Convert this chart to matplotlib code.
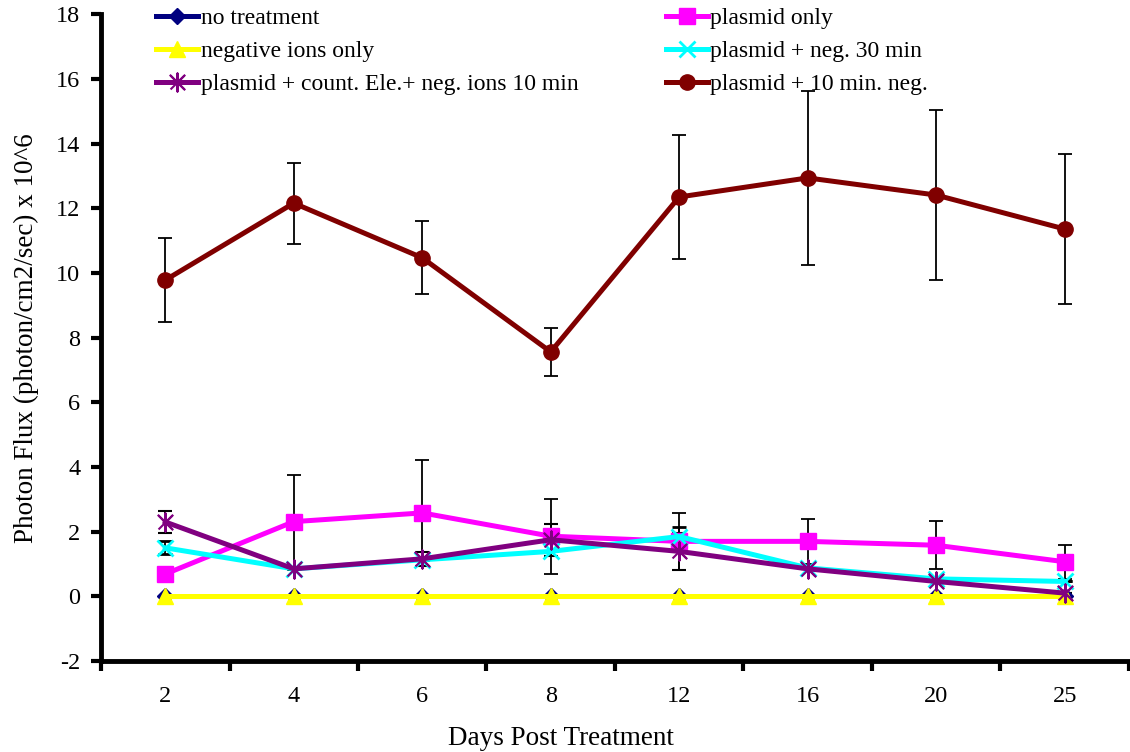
import numpy as np
import matplotlib.pyplot as plt

plt.rcParams['font.family'] = ['Liberation Serif', 'DejaVu Serif']
plt.rcParams['axes.unicode_minus'] = False

days = ['2', '4', '6', '8', '12', '16', '20', '25']

no_treatment = [0, 0, 0, 0, 0, 0, 0, 0]
neg_ions_only = [0, 0, 0, 0, 0, 0, 0, 0]
plasmid_only = [0.69, 2.31, 2.58, 1.86, 1.70, 1.70, 1.58, 1.07]
plasmid_only_err = [0.0, 1.45, 1.64, 1.16, 0.89, 0.70, 0.74, 0.52]
neg30 = [1.50, 0.85, 1.13, 1.39, 1.85, 0.88, 0.54, 0.46]
neg30_err = [0.20, 0.0, 0.0, 0.0, 0.30, 0.0, 0.0, 0.0]
count_ele = [2.30, 0.85, 1.16, 1.75, 1.39, 0.85, 0.46, 0.10]
count_ele_err = [0.35, 0.0, 0.22, 0.50, 0.57, 0.0, 0.0, 0.0]
neg10 = [9.78, 12.16, 10.47, 7.56, 12.35, 12.94, 12.41, 11.36]
neg10_err = [1.31, 1.25, 1.13, 0.74, 1.91, 2.68, 2.63, 2.32]

x = np.arange(len(days))

fig = plt.figure(figsize=(11.3, 7.52), dpi=100)
ax = fig.add_axes([0.0894, 0.121, 0.9096, 0.86])

lw = 3.6
eb = dict(ecolor='black', elinewidth=1.3, capsize=5, capthick=1.3)

# excel-style star: x with a vertical bar
star = [(-1, -1), (1, 1), (0, 0), (-1, 1), (1, -1), (0, 0), (0, 1.3), (0, -1.3), (0, 0)]

c1 = ax.errorbar(x, no_treatment, color='#000080', marker='D', markersize=8, lw=lw,
                 label='no treatment', zorder=3)
c2 = ax.errorbar(x, plasmid_only, yerr=plasmid_only_err, color='#FF00FF', marker='s',
                 markersize=12, lw=lw, label='plasmid only', zorder=3, **eb)
c3 = ax.errorbar(x, neg_ions_only, color='#FFFF00', marker='^', markersize=12, lw=lw,
                 label='negative ions only', zorder=3)
c4 = ax.errorbar(x, neg30, yerr=neg30_err, color='#00FFFF', marker='x', markersize=12,
                 mew=2, lw=lw, label='plasmid + neg. 30 min', zorder=3, **eb)
c5 = ax.errorbar(x, count_ele, yerr=count_ele_err, color='#800080', marker=star,
                 markersize=13, mew=1.5, lw=lw,
                 label='plasmid + count. Ele.+ neg. ions 10 min', zorder=3, **eb)
c6 = ax.errorbar(x, neg10, yerr=neg10_err, color='#800000', marker='o', markersize=11,
                 lw=lw, label='plasmid + 10 min. neg.', zorder=3, **eb)

ax.set_xlim(-0.5, 7.5)
ax.set_ylim(-2, 18)
ax.set_yticks(np.arange(-2, 19, 2))

# category ticks at boundaries, labels at centers
ax.set_xticks(np.arange(-0.5, 8, 1))
ax.set_xticklabels([])
ax.set_xticks(x, minor=True)
ax.set_xticklabels(days, minor=True)
ax.tick_params(axis='x', which='major', direction='out', length=7, width=3)
ax.tick_params(axis='x', which='minor', length=0, pad=18, labelsize=17.5)
ax.tick_params(axis='y', direction='out', length=7, width=3, labelsize=17.5, pad=8)

for s in ['top', 'right']:
    ax.spines[s].set_visible(False)
for s in ['left', 'bottom']:
    ax.spines[s].set_linewidth(3.5)

ax.set_xlabel('Days Post Treatment', fontsize=19.5)
ax.xaxis.set_label_coords(0.447, -0.1)
ax.set_ylabel('Photon Flux (photon/cm2/sec) x 10^6', fontsize=19.5, labelpad=12)

conts = [c1, c3, c5, c2, c4, c6]
ax.legend([c[0] for c in conts], [c.get_label() for c in conts], ncol=2,
          frameon=False, loc='upper left', bbox_to_anchor=(0.044, 1.025),
          fontsize=17, handlelength=1.8, handletextpad=0.1, columnspacing=3.7,
          labelspacing=0.48, borderaxespad=0)

fig.savefig('out.png', dpi=100)
